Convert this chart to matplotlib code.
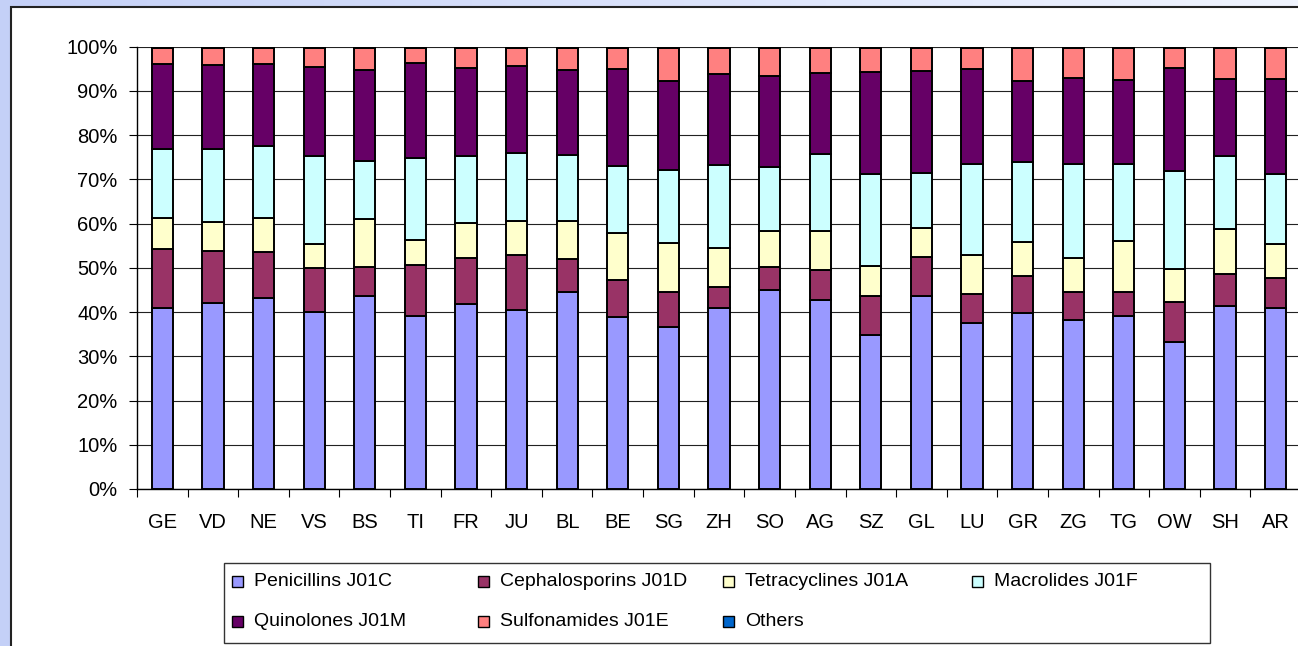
import numpy as np
import matplotlib
matplotlib.use("Agg")
import matplotlib.pyplot as plt
from matplotlib.patches import Rectangle

plt.rcParams['font.family'] = ['Liberation Sans', 'DejaVu Sans']

# antibiotic class shares (%) by canton
regions = ['GE', 'VD', 'NE', 'VS', 'BS', 'TI', 'FR', 'JU', 'BL', 'BE', 'SG', 'ZH',
           'SO', 'AG', 'SZ', 'GL', 'LU', 'GR', 'ZG', 'TG', 'OW', 'SH', 'AR']

penicillins = [40.9, 42.1, 43.1, 39.9, 43.6, 39.1, 41.8, 40.5, 44.5, 38.7, 36.5, 40.9,
               44.9, 42.7, 34.7, 43.6, 37.4, 39.7, 38.2, 39.1, 33.3, 41.4, 40.9]
cephalosporins = [13.4, 11.7, 10.3, 10.0, 6.7, 11.5, 10.3, 12.4, 7.6, 8.4, 8.0, 4.8,
                  5.4, 6.7, 8.9, 8.9, 6.6, 8.3, 6.2, 5.4, 8.9, 7.0, 6.7]
tetracyclines = [7.0, 6.6, 7.8, 5.3, 10.7, 5.5, 8.0, 7.5, 8.5, 10.7, 11.0, 8.9,
                 8.0, 8.9, 6.7, 6.6, 8.9, 7.7, 7.8, 11.6, 7.6, 10.3, 7.6]
macrolides = [15.6, 16.5, 16.2, 19.9, 13.2, 18.5, 15.0, 15.5, 14.9, 15.1, 16.5, 18.7,
              14.6, 17.2, 20.8, 12.4, 20.5, 18.1, 21.2, 17.3, 22.2, 16.4, 15.9]
quinolones = [19.1, 18.8, 18.6, 20.0, 20.5, 21.4, 20.0, 19.6, 19.2, 21.9, 20.0, 20.5,
              20.5, 18.3, 23.0, 22.9, 21.3, 18.3, 19.4, 19.1, 23.1, 17.4, 21.4]
sulfonamides = [3.5, 3.8, 3.4, 4.2, 5.1, 3.3, 4.3, 3.9, 5.1, 4.6, 7.4, 6.0,
                6.4, 5.6, 5.3, 5.4, 4.7, 7.3, 6.6, 7.3, 4.7, 6.9, 6.9]
others = [0.4, 0.4, 0.4, 0.4, 0.2, 0.4, 0.4, 0.4, 0.2, 0.4, 0.4, 0.2,
          0.2, 0.4, 0.4, 0.2, 0.4, 0.4, 0.4, 0.2, 0.2, 0.4, 0.4]

labels = ['Penicillins J01C', 'Cephalosporins J01D', 'Tetracyclines J01A',
          'Macrolides J01F', 'Quinolones J01M', 'Sulfonamides J01E', 'Others']
colors = ['#9999FF', '#993366', '#FFFFCC', '#CCFFFF', '#660066', '#FF8080', '#0066CC']

series = np.array([penicillins, cephalosporins, tetracyclines, macrolides,
                   quinolones, sulfonamides, others])
shares = series / series.sum(axis=0) * 100  # 100% stacked

W, H = 1298, 646
fig = plt.figure(figsize=(W / 100, H / 100), dpi=100)

# bluish backdrop with a white chart panel on top
bg = fig.add_axes([0, 0, 1, 1], zorder=-10)
grad = np.linspace(0, 1, 256)[None, :, None]
left_c = np.array([196, 208, 247]) / 255
right_c = np.array([240, 244, 254]) / 255
bg.imshow(left_c + (right_c - left_c) * grad, aspect='auto', extent=[0, 1, 0, 1])
bg.set_axis_off()
fig.add_artist(Rectangle((11 / W, -0.05), 1.1, 1.05 - 7 / H, transform=fig.transFigure,
                         facecolor='white', edgecolor='#222222', lw=1.5, zorder=-5))

ax = fig.add_axes([137 / W, 157 / H, 1164 / W, 442.3 / H])
x = np.arange(len(regions))
bottom = np.zeros(len(regions))
for vals, col, lab in zip(shares, colors, labels):
    ax.bar(x, vals, 0.42, bottom=bottom, color=col, edgecolor='black',
           linewidth=1.4, label=lab, zorder=3)
    bottom += vals

ax.set_xlim(-0.5, len(regions) - 0.5)
ax.set_ylim(0, 100)
ax.set_yticks(np.arange(0, 101, 10))
ax.set_yticklabels([f'{v}%' for v in range(0, 101, 10)])
ax.set_xticks(x)
ax.set_xticklabels(regions)
ax.set_xticks(np.arange(-0.5, len(regions)), minor=True)
ax.tick_params(axis='x', which='major', length=0, pad=17, labelsize=14.5)
ax.tick_params(axis='x', which='minor', length=6, width=0.8, direction='out')
ax.tick_params(axis='y', length=6, width=0.8, direction='out', pad=8, labelsize=14.5)
ax.yaxis.grid(True, color='#222222', linewidth=0.8, zorder=0)
ax.set_axisbelow(True)
for side in ['top', 'right']:
    ax.spines[side].set_visible(False)
for side in ['left', 'bottom']:
    ax.spines[side].set_linewidth(1.0)
    ax.spines[side].set_color('black')

# legend: 4 columns, 2 rows in a plain box
fig.add_artist(Rectangle((224 / W, 1 - 643 / H), (1210 - 224) / W, 80 / H,
                         transform=fig.transFigure, facecolor='white',
                         edgecolor='#333333', lw=1.0, zorder=1))
col_x = [232, 478, 723, 972]
row_y = [581.5, 621.5]
for i, (lab, col) in enumerate(zip(labels, colors)):
    cx = col_x[i % 4]
    cy = row_y[i // 4]
    fig.add_artist(Rectangle((cx / W, 1 - (cy + 5.5) / H), 11 / W, 11 / H,
                             transform=fig.transFigure, facecolor=col,
                             edgecolor='black', lw=1.0, zorder=2))
    fig.text((cx + 22) / W, 1 - cy / H, lab, fontsize=14, va='center', ha='left')

fig.savefig('out.png', dpi=100)
